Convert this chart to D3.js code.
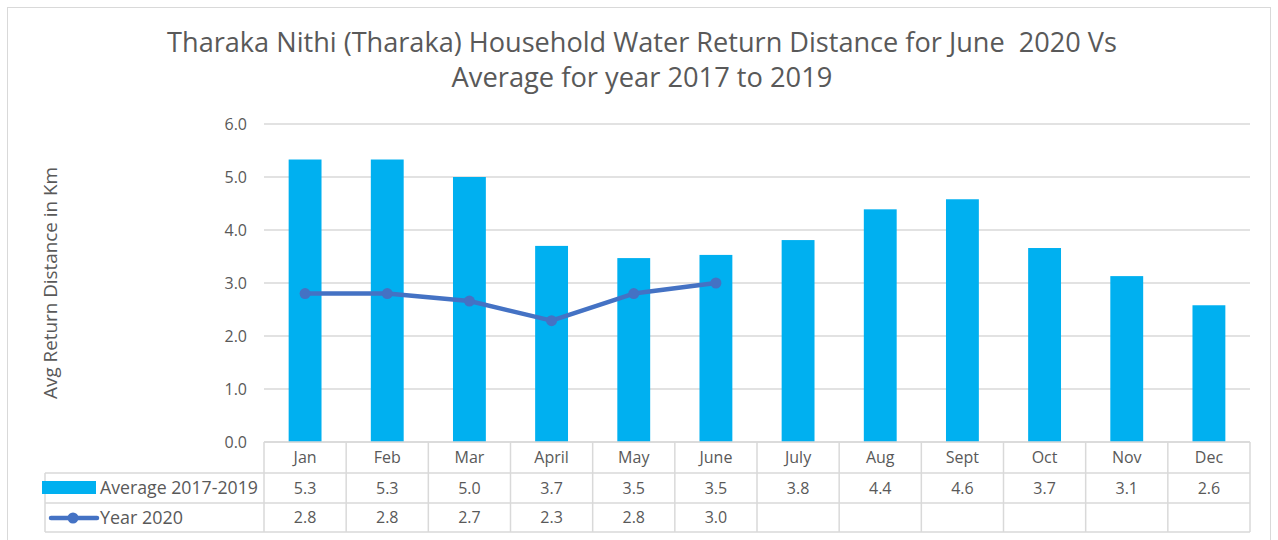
<!DOCTYPE html>
<html>
<head>
<meta charset="utf-8">
<script src="https://cdn.jsdelivr.net/npm/d3@7"></script>
<style>
  body { margin: 0; background: #fff; }
  svg text { font-family: "Open Sans", "Liberation Sans", sans-serif; fill: #595959; }
</style>
</head>
<body>
<svg id="chart" width="1278" height="540"></svg>
<script>
// chart data
const months = ['Jan', 'Feb', 'Mar', 'April', 'May', 'June', 'July', 'Aug', 'Sept', 'Oct', 'Nov', 'Dec'];
const avgValues = [5.33, 5.33, 5.0, 3.70, 3.47, 3.53, 3.81, 4.39, 4.58, 3.66, 3.13, 2.58];
const year2020 = [2.8, 2.8, 2.66, 2.29, 2.8, 3.0];
const yTicks = [0, 1, 2, 3, 4, 5, 6];
const seriesNames = ['Average 2017-2019', 'Year 2020'];
const titleLines = ['Tharaka Nithi (Tharaka) Household Water Return Distance for June  2020 Vs', 'Average for year 2017 to 2019'];

const BAR_COLOR = '#00B0F0';
const LINE_COLOR = '#4472C4';
const GRID = '#d9d9d9';

const svg = d3.select('svg#chart');

// outer frame
svg.append('rect')
  .attr('x', 7.5).attr('y', 7.5)
  .attr('width', 1263).attr('height', 545)
  .attr('fill', 'none').attr('stroke', GRID);

// fit text into a target width
function fitText(sel, width) {
  const w = sel.node().getComputedTextLength();
  const fs = parseFloat(sel.attr('font-size'));
  sel.attr('font-size', fs * width / w);
  return sel;
}

const title = svg.append('g');
fitText(title.append('text').attr('x', 642).attr('y', 52).attr('text-anchor', 'middle')
  .attr('font-size', 24).style('white-space', 'pre').text(titleLines[0]), 950);
fitText(title.append('text').attr('x', 642).attr('y', 87).attr('text-anchor', 'middle')
  .attr('font-size', 24).text(titleLines[1]), 381);

const x = d3.scaleBand().domain(months).range([264, 1250]).paddingInner(0.6).paddingOuter(0.3);
const xCol = d3.scaleBand().domain(months).range([264, 1250]);
const y = d3.scaleLinear().domain([0, 6]).range([442, 124]);

// gridlines
svg.append('g')
  .selectAll('line')
  .data(yTicks)
  .enter()
  .append('line')
  .attr('x1', 264).attr('x2', 1250)
  .attr('y1', (d) => y(d)).attr('y2', (d) => y(d))
  .attr('stroke', GRID).attr('stroke-width', 1.3);

// y axis labels
const yAxis = svg.append('g')
  .attr('transform', 'translate(247,0)')
  .call(d3.axisLeft(y).tickValues(yTicks).tickFormat(d3.format('.1f')).tickSize(0).tickPadding(0));
yAxis.select('.domain').remove();
yAxis.selectAll('text')
  .attr('font-size', 16).attr('dy', '0.35em')
  .style('font-family', '"Open Sans", sans-serif').attr('fill', '#595959');

fitText(svg.append('text')
  .attr('transform', 'translate(57,283) rotate(-90)')
  .attr('text-anchor', 'middle')
  .attr('font-size', 16)
  .text('Avg Return Distance in Km'), 232);

// bars
svg.append('g')
  .selectAll('rect')
  .data(avgValues)
  .enter()
  .append('rect')
  .attr('x', (d, i) => x(months[i]))
  .attr('width', x.bandwidth())
  .attr('y', (d) => y(d))
  .attr('height', (d) => y(0) - y(d))
  .attr('fill', BAR_COLOR);

// line
const cx = (i) => xCol(months[i]) + xCol.bandwidth() / 2;
svg.append('path')
  .datum(year2020)
  .attr('d', d3.line().x((d, i) => cx(i)).y((d) => y(d)))
  .attr('fill', 'none')
  .attr('stroke', LINE_COLOR)
  .attr('stroke-width', 4.5)
  .attr('stroke-linejoin', 'round');
svg.append('g')
  .selectAll('circle')
  .data(year2020)
  .enter()
  .append('circle')
  .attr('cx', (d, i) => cx(i))
  .attr('cy', (d) => y(d))
  .attr('r', 5.5)
  .attr('fill', LINE_COLOR);

// data table
const rowY = [442, 473, 503, 532];
const table = svg.append('g').attr('stroke', GRID).attr('stroke-width', 1.5);
table.append('line').attr('x1', 264).attr('x2', 1250).attr('y1', rowY[0]).attr('y2', rowY[0]);
[1, 2, 3].forEach((r) => {
  table.append('line').attr('x1', 45).attr('x2', 1250).attr('y1', rowY[r]).attr('y2', rowY[r]);
});
table.append('line').attr('x1', 45).attr('x2', 45).attr('y1', rowY[1]).attr('y2', rowY[3]);
months.forEach((m) => {
  table.append('line').attr('x1', xCol(m)).attr('x2', xCol(m)).attr('y1', rowY[0]).attr('y2', rowY[3]);
});
table.append('line').attr('x1', 1250).attr('x2', 1250).attr('y1', rowY[0]).attr('y2', rowY[3]);

const cellText = (txt, xp, yp) => svg.append('text')
  .attr('x', xp).attr('y', yp).attr('text-anchor', 'middle')
  .attr('font-size', 16).attr('dy', '0.35em').text(txt);

months.forEach((m, i) => {
  const c = xCol(m) + xCol.bandwidth() / 2;
  cellText(m, c, (rowY[0] + rowY[1]) / 2);
  cellText(avgValues[i].toFixed(1), c, (rowY[1] + rowY[2]) / 2 + 0.5);
  if (i < year2020.length) cellText(year2020[i].toFixed(1), c, (rowY[2] + rowY[3]) / 2);
});

// legend keys in the table
svg.append('rect').attr('x', 42).attr('y', 481).attr('width', 54).attr('height', 13).attr('fill', BAR_COLOR);
fitText(svg.append('text').attr('x', 100).attr('y', 488).attr('dy', '0.35em').attr('font-size', 16)
  .text(seriesNames[0]), 158);
svg.append('line').attr('x1', 51).attr('x2', 97).attr('y1', 518).attr('y2', 518)
  .attr('stroke', LINE_COLOR).attr('stroke-width', 4.5).attr('stroke-linecap', 'round');
svg.append('circle').attr('cx', 73).attr('cy', 518).attr('r', 5.5).attr('fill', LINE_COLOR);
fitText(svg.append('text').attr('x', 100).attr('y', 518).attr('dy', '0.35em').attr('font-size', 16)
  .text(seriesNames[1]), 83);
</script>
</body>
</html>
